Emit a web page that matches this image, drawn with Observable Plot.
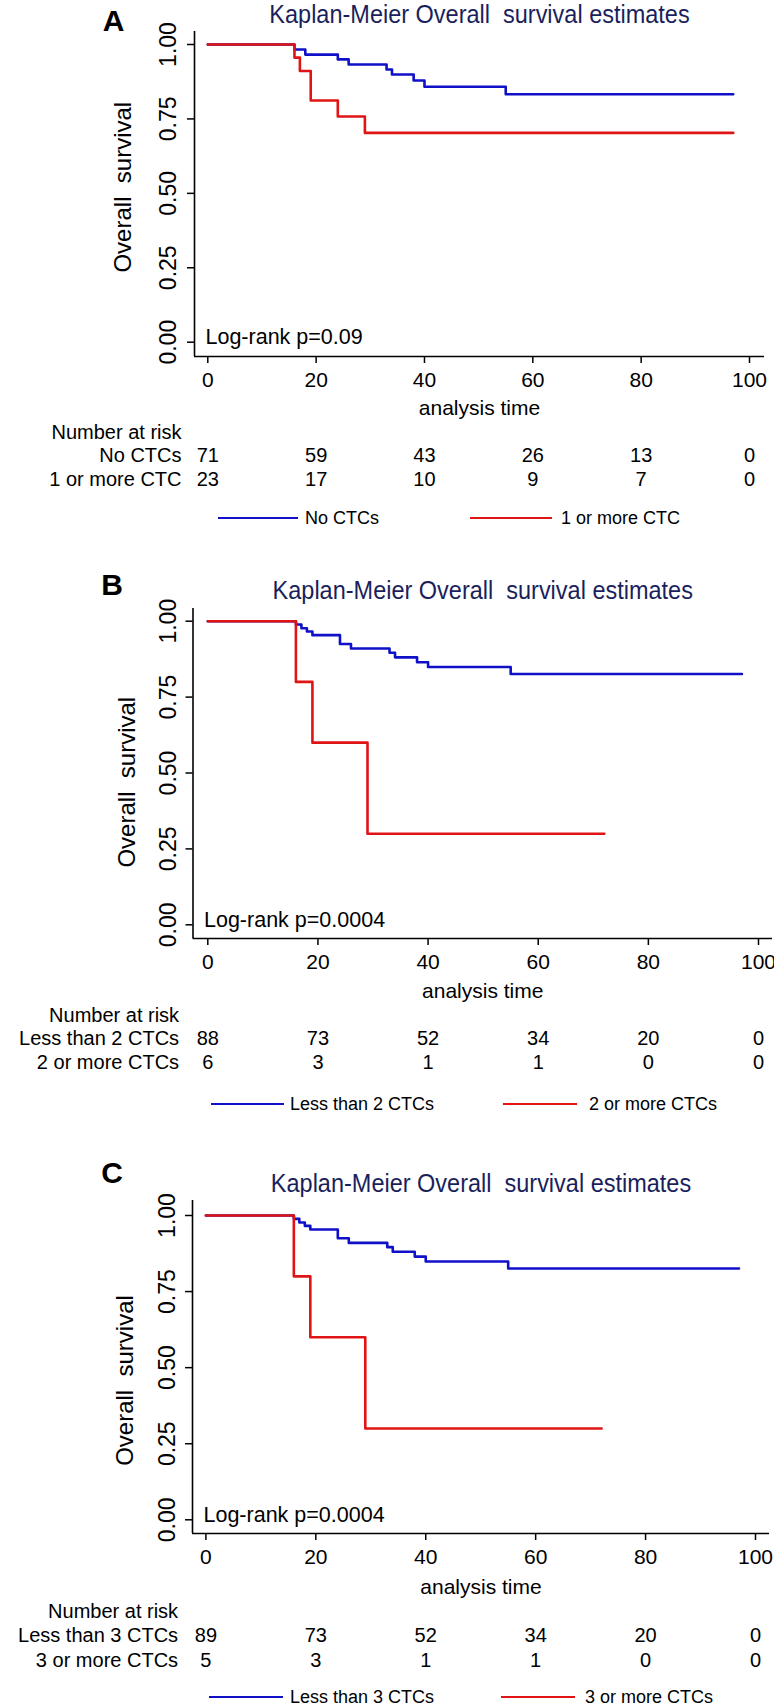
<!DOCTYPE html>
<html><head><meta charset="utf-8">
<script src="https://cdn.jsdelivr.net/npm/d3@7"></script>
<script src="https://cdn.jsdelivr.net/npm/@observablehq/plot@0.6"></script>
<style>
html,body{margin:0;padding:0;background:#fff;}
body{width:774px;height:1708px;position:relative;overflow:hidden;font-family:"Liberation Sans",Arial,Helvetica,sans-serif;}
.panel{position:absolute;left:0;width:774px;}
.lgline{position:absolute;height:2px;}
.lgtext{position:absolute;font-size:18px;line-height:18px;color:#000;white-space:nowrap;transform:translateY(-50%);}
</style></head><body>
<script>
// ---------- data ----------
const timeTicks = [0, 20, 40, 60, 80, 100];
const survTicks = [0, 0.25, 0.5, 0.75, 1];
const survTickLabels = ["0.00", "0.25", "0.50", "0.75", "1.00"];
const titleText = "Kaplan-Meier Overall\u00a0 survival estimates";
const yLabelText = "Overall\u00a0 survival";
const xLabelText = "analysis time";
const riskHeader = "Number at risk";

// Panel A
const aGroups = ["No CTCs", "1 or more CTC"];
const aBlueTime = [0, 16, 18, 24, 26, 33, 34, 38, 40, 55, 97];
const aBlueSurv = [1, 0.983, 0.966, 0.950, 0.933, 0.916, 0.899, 0.879, 0.858, 0.833, 0.833];
const aRedTime = [0, 16, 17, 19, 24, 29, 97];
const aRedSurv = [1, 0.956, 0.911, 0.812, 0.758, 0.703, 0.703];
const aRiskBlue = [71, 59, 43, 26, 13, 0];
const aRiskRed = [23, 17, 10, 9, 7, 0];
const aPText = "Log-rank p=0.09";

// Panel B
const bGroups = ["Less than 2 CTCs", "2 or more CTCs"];
const bBlueTime = [0, 16, 17, 18, 19, 24, 26, 33, 34, 38, 40, 55, 97];
const bBlueSurv = [1, 0.989, 0.977, 0.966, 0.954, 0.925, 0.910, 0.896, 0.881, 0.865, 0.849, 0.826, 0.826];
const bRedTime = [0, 16, 19, 29, 72];
const bRedSurv = [1, 0.8, 0.6, 0.3, 0.3];
const bRiskBlue = [88, 73, 52, 34, 20, 0];
const bRiskRed = [6, 3, 1, 1, 0, 0];
const bPText = "Log-rank p=0.0004";

// Panel C
const cGroups = ["Less than 3 CTCs", "3 or more CTCs"];
const cBlueTime = [0, 16, 17, 18, 19, 24, 26, 33, 34, 38, 40, 55, 97];
const cBlueSurv = [1, 0.989, 0.977, 0.966, 0.954, 0.925, 0.910, 0.896, 0.881, 0.865, 0.849, 0.826, 0.826];
const cRedTime = [0, 16, 19, 29, 72];
const cRedSurv = [1, 0.8, 0.6, 0.3, 0.3];
const cRiskBlue = [89, 73, 52, 34, 20, 0];
const cRiskRed = [5, 3, 1, 1, 0, 0];
const cPText = "Log-rank p=0.0004";

// ---------- style / layout ----------
const BLUE = "#1010c8", RED = "#e01414", NAVY = "#1a1f5c";
const FONT = "'Liberation Sans', Arial, Helvetica, sans-serif";
const TITLE_STRETCH = 1.1;

const panels = [
  {letter: "A", top: 0, axisTop: 31, y1: 44, y0: 341.7, axisBottom: 356,
   axisLeft: 194, x0: 207.3, x100: 749, axisRight: 764,
   titleY: 14, letterX: 113, letterY: 21, yLabelX: 123, yLabelY: 186.7, yTickX: 168.6,
   rowRight: 181, rowDy: [52, 76, 99.5, 123], legendY: 518, legend: [[218, 298, 305], [470, 552, 561]],
   groups: aGroups, blueT: aBlueTime, blueS: aBlueSurv, redT: aRedTime, redS: aRedSurv,
   riskBlue: aRiskBlue, riskRed: aRiskRed, pText: aPText},
  {letter: "B", top: 576, axisTop: 608, y1: 620.7, y0: 924.3, axisBottom: 938,
   axisLeft: 192.5, x0: 207.3, x100: 758, axisRight: 772,
   titleY: 590, letterX: 111.6, letterY: 585, yLabelX: 126.7, yLabelY: 781.7, yTickX: 168.3,
   rowRight: 178.6, rowDy: [53, 77, 100.5, 124.5], legendY: 1104, legend: [[211, 284, 290], [503, 577, 589]],
   groups: bGroups, blueT: bBlueTime, blueS: bBlueSurv, redT: bRedTime, redS: bRedSurv,
   riskBlue: bRiskBlue, riskRed: bRiskRed, pText: bPText},
  {letter: "C", top: 1169, axisTop: 1200, y1: 1215, y0: 1519.3, axisBottom: 1533,
   axisLeft: 192, x0: 205.4, x100: 755, axisRight: 769,
   titleY: 1183, letterX: 111.6, letterY: 1173, yLabelX: 125, yLabelY: 1380, yTickX: 166.7,
   rowRight: 177.6, rowDy: [54, 78, 102, 127], legendY: 1697, legend: [[209, 283, 290], [501, 575, 585]],
   groups: cGroups, blueT: cBlueTime, blueS: cBlueSurv, redT: cRedTime, redS: cRedSurv,
   riskBlue: cRiskBlue, riskRed: cRiskRed, pText: cPText}
];

function build(p) {
  const top = p.top;
  const aTop = p.axisTop - top, aBot = p.axisBottom - top;
  const H = aBot + 140;
  const xUnit = (p.x100 - p.x0) / 100;
  const xDom = [(p.axisLeft - p.x0) / xUnit, (p.axisRight - p.x0) / xUnit];
  const yUnit = p.y0 - p.y1;
  const yDom = [-(p.axisBottom - p.y0) / yUnit, 1 + (p.y1 - p.axisTop) / yUnit];
  const blue = p.blueT.map((t, i) => ({t, s: p.blueS[i]}));
  const red = p.redT.map((t, i) => ({t, s: p.redS[i]}));
  const rB = timeTicks.map((t, i) => ({t, n: p.riskBlue[i]}));
  const rR = timeTicks.map((t, i) => ({t, n: p.riskRed[i]}));
  const frameMidY = (p.axisTop + p.axisBottom) / 2;

  const chart = Plot.plot({
    width: 774, height: H,
    marginLeft: p.axisLeft, marginRight: 774 - p.axisRight,
    marginTop: aTop, marginBottom: H - aBot,
    x: {domain: xDom},
    y: {domain: yDom},
    style: {fontFamily: FONT, fontSize: "21px", color: "#000", background: "transparent", overflow: "visible"},
    marks: [
      Plot.line(blue, {x: "t", y: "s", curve: "step-after", stroke: BLUE, strokeWidth: 2.6}),
      Plot.line(red, {x: "t", y: "s", curve: "step-after", stroke: RED, strokeWidth: 2.6}),
      Plot.ruleX([xDom[0]], {stroke: "#000", strokeWidth: 1.6}),
      Plot.ruleY([yDom[0]], {stroke: "#000", strokeWidth: 1.6}),
      Plot.axisX({ticks: timeTicks, tickSize: 7, tickPadding: 9, tickFormat: d => String(d),
                  label: null, fontSize: 21, strokeWidth: 1.5}),
      Plot.axisY({ticks: survTicks, tickSize: 7, tickFormat: () => "", label: null, strokeWidth: 1.5}),
      Plot.text(survTicks, {y: d => d, text: (d, i) => survTickLabels[i], frameAnchor: "left",
                dx: p.yTickX - p.axisLeft, rotate: -90, textAnchor: "middle", lineAnchor: "middle", fontSize: 23}),
      Plot.text([yLabelText], {frameAnchor: "left", dx: p.yLabelX - p.axisLeft, dy: p.yLabelY - frameMidY,
                rotate: -90, textAnchor: "middle", lineAnchor: "middle", fontSize: 24}),
      Plot.text([titleText], {frameAnchor: "top", dy: p.titleY - p.axisTop, lineAnchor: "middle",
                fill: NAVY, fontSize: 23.5, className: "kmtitle"}),
      Plot.text([p.letter], {frameAnchor: "top-left", dx: p.letterX - p.axisLeft, dy: p.letterY - p.axisTop,
                textAnchor: "middle", lineAnchor: "middle", fontSize: 30, fontWeight: "bold"}),
      Plot.text([{s: 0, label: p.pText}], {y: "s", text: "label", frameAnchor: "left", dx: 11, dy: -5,
                textAnchor: "start", lineAnchor: "middle", fontSize: 21.5}),
      Plot.text([xLabelText], {frameAnchor: "bottom", dy: p.rowDy[0], lineAnchor: "middle", fontSize: 21}),
      Plot.text([riskHeader], {frameAnchor: "bottom-left", dx: p.rowRight - p.axisLeft, dy: p.rowDy[1],
                textAnchor: "end", lineAnchor: "middle", fontSize: 20}),
      Plot.text([p.groups[0]], {frameAnchor: "bottom-left", dx: p.rowRight - p.axisLeft, dy: p.rowDy[2],
                textAnchor: "end", lineAnchor: "middle", fontSize: 20}),
      Plot.text([p.groups[1]], {frameAnchor: "bottom-left", dx: p.rowRight - p.axisLeft, dy: p.rowDy[3],
                textAnchor: "end", lineAnchor: "middle", fontSize: 20}),
      Plot.text(rB, {x: "t", text: d => String(d.n), frameAnchor: "bottom", dy: p.rowDy[2], lineAnchor: "middle", fontSize: 20}),
      Plot.text(rR, {x: "t", text: d => String(d.n), frameAnchor: "bottom", dy: p.rowDy[3], lineAnchor: "middle", fontSize: 20})
    ]
  });

  // the title is slightly taller than plain Arial in the original figure
  chart.querySelectorAll(".kmtitle text").forEach(el => {
    const tr = el.getAttribute("transform");
    if (tr && tr.includes("translate")) el.setAttribute("transform", tr + ` scale(1,${TITLE_STRETCH})`);
  });

  const div = document.createElement("div");
  div.className = "panel";
  div.style.top = top + "px";
  div.appendChild(chart);
  document.body.appendChild(div);

  // legend
  [BLUE, RED].forEach((c, i) => {
    const [l1, l2, tx] = p.legend[i];
    const ln = document.createElement("div");
    ln.className = "lgline";
    ln.style.left = l1 + "px"; ln.style.width = (l2 - l1) + "px";
    ln.style.top = (p.legendY - 1) + "px"; ln.style.background = c;
    document.body.appendChild(ln);
    const t = document.createElement("div");
    t.className = "lgtext";
    t.style.left = tx + "px"; t.style.top = p.legendY + "px";
    t.textContent = p.groups[i];
    document.body.appendChild(t);
  });
}
panels.forEach(build);
</script>
</body></html>
